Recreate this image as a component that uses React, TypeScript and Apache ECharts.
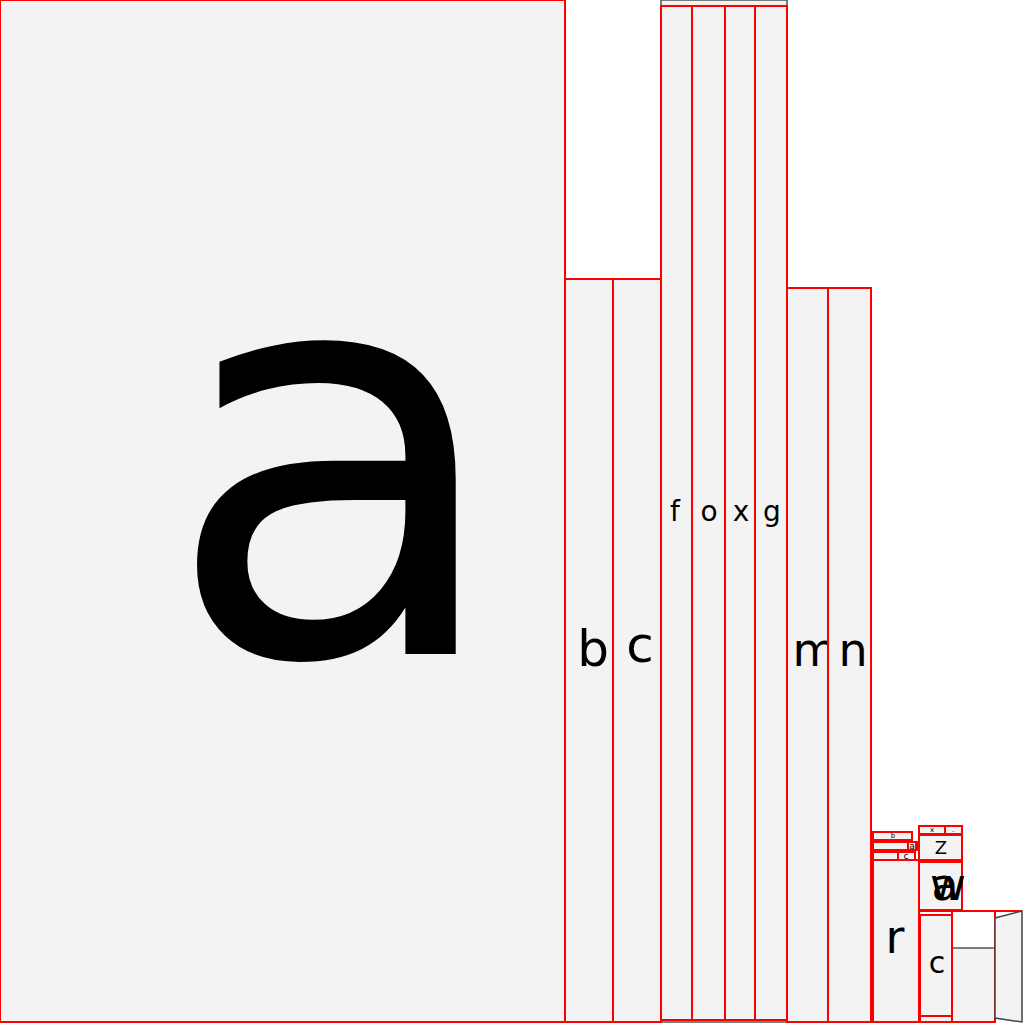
import React, { useEffect, useRef } from "react";
import * as echarts from "echarts";

// Leaf cells: extent on the hidden 0..1024 value axes
const cellNames = ["a", "b", "c", "f", "o", "x", "g", "m", "n", "r", "Z", "a", "w", "c", "", "b", "", "a", "", "c", "x", "."];
const cellX0 = [0, 565, 613, 661, 692, 725, 755, 787, 828, 873, 919, 919, 919, 920, 920, 873, 873, 908, 873, 898, 919, 945];
const cellX1 = [565, 613, 661, 692, 725, 755, 787, 828, 871, 919, 962, 962, 962, 952, 952, 912, 918, 916, 915, 915, 945, 962];
const cellY0 = [0, 279, 279, 6, 6, 6, 6, 288, 288, 860, 835, 862, 862, 915, 1016, 832, 842, 842, 852, 852, 826, 826];
const cellY1 = [1022, 1022, 1022, 1020, 1020, 1020, 1020, 1022, 1022, 1022, 860, 910, 910, 1016, 1022, 840, 850, 850, 860, 860, 834, 834];
const labelX = [335, 593, 640, 675, 709, 741, 772, 815, 853, 895, 941, 945, 948, 937, 936, 893, 895, 912, 894, 906, 932, 953];
const labelY = [460, 649, 645, 511, 511, 511, 511, 650, 650, 937, 847, 884, 884, 962, 1019, 836, 846, 846, 856, 856, 830, 830];
const labelSize = [560, 50, 50, 28, 28, 28, 28, 46, 46, 46, 18, 44, 44, 30, 6, 7, 6, 9, 6, 9, 7, 7];

// Parent groups (grey outlines)
const groupX0 = [565, 661, 787, 873, 952];
const groupX1 = [661, 787, 871, 919, 995];
const groupY0 = [279, 0, 288, 940, 948];
const groupY1 = [1022, 1022, 1022, 1022, 1022];

// Open red frame on the lower right
const frameX0 = [952];
const frameX1 = [995];
const frameY0 = [911];
const frameY1 = [1022];

// Skewed tile at the right edge
const skewX = [995, 1022, 1022, 995];
const skewY = [918, 911, 1022, 1018];

export default function App() {
  const ref = useRef<HTMLDivElement>(null);
  useEffect(() => {
    document.body.style.margin = "0";
    const chart = echarts.init(ref.current!, null, { renderer: "svg" });

    const cellData = cellNames.map((n, i) => [cellX0[i], cellX1[i], cellY0[i], cellY1[i], i]);
    const groupData = groupX0.map((x, i) => [x, groupX1[i], groupY0[i], groupY1[i]]);
    const frameData = frameX0.map((x, i) => [x, frameX1[i], frameY0[i], frameY1[i]]);

    const rectOf = (api: any) => {
      const p0 = api.coord([api.value(0), api.value(2)]);
      const p1 = api.coord([api.value(1), api.value(3)]);
      return { x: p0[0], y: p0[1], width: p1[0] - p0[0], height: p1[1] - p0[1] };
    };

    chart.setOption({
      animation: false,
      grid: { left: 0, right: 0, top: 0, bottom: 0 },
      xAxis: { type: "value", min: 0, max: 1024, show: false },
      yAxis: { type: "value", min: 0, max: 1024, inverse: true, show: false },
      series: [
        {
          type: "custom",
          data: groupData,
          renderItem: (params: any, api: any) => ({
            type: "rect",
            shape: rectOf(api),
            style: { fill: "#f3f3f3", stroke: "#555555", lineWidth: 1.5 },
          }),
        },
        {
          type: "custom",
          data: cellData,
          renderItem: (params: any, api: any) => {
            const i = api.value(4);
            const children: any[] = [
              {
                type: "rect",
                shape: rectOf(api),
                style: {
                  fill: cellNames[i] === "w" ? "none" : "#f3f3f3",
                  stroke: "#ff0000",
                  lineWidth: 2,
                },
              },
            ];
            if (cellNames[i]) {
              const p = api.coord([labelX[i], labelY[i]]);
              children.push({
                type: "text",
                style: {
                  text: cellNames[i],
                  x: p[0],
                  y: p[1],
                  fill: "#000000",
                  font: `${labelSize[i]}px "DejaVu Sans"`,
                  align: "center",
                  verticalAlign: "middle",
                },
              });
            }
            return { type: "group", children };
          },
        },
        {
          type: "custom",
          data: frameData,
          renderItem: (params: any, api: any) => {
            const r = rectOf(api);
            const l = api.coord([919, api.value(2)]);
            const rr = api.coord([1022, api.value(2)]);
            return {
              type: "group",
              children: [
                { type: "rect", shape: r, style: { fill: "none", stroke: "#ff0000", lineWidth: 2 } },
                { type: "line", shape: { x1: l[0], y1: l[1], x2: rr[0], y2: rr[1] }, style: { stroke: "#ff0000", lineWidth: 2 } },
              ],
            };
          },
        },
        {
          type: "custom",
          data: [0],
          renderItem: (params: any, api: any) => ({
            type: "polygon",
            shape: { points: skewX.map((x, i) => api.coord([x, skewY[i]])) },
            style: { fill: "#f3f3f3", stroke: "#444444", lineWidth: 1.5 },
          }),
        },
      ],
    });
    return () => chart.dispose();
  }, []);
  return <div ref={ref} style={{ width: 1024, height: 1024 }} />;
}
